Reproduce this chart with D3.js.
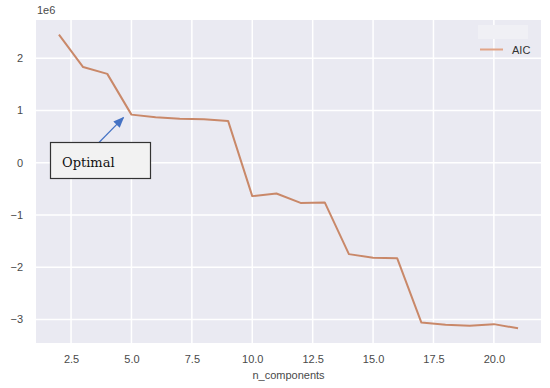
<!DOCTYPE html>
<html>
<head>
<meta charset="utf-8">
<script src="https://cdn.jsdelivr.net/npm/d3@7"></script>
<style>
  html, body { margin: 0; padding: 0; background: #ffffff; }
  svg { display: block; }
</style>
</head>
<body>
<script>
// ---- data ----
const nComponents = [2, 3, 4, 5, 6, 7, 8, 9, 10, 11, 12, 13, 14, 15, 16, 17, 18, 19, 20, 21];
const aicValues = [2.45e6, 1.83e6, 1.70e6, 0.92e6, 0.87e6, 0.84e6, 0.83e6, 0.80e6, -0.64e6, -0.59e6,
                   -0.77e6, -0.76e6, -1.75e6, -1.82e6, -1.83e6, -3.06e6, -3.10e6, -3.12e6, -3.09e6, -3.17e6];
const xTicks = [2.5, 5.0, 7.5, 10.0, 12.5, 15.0, 17.5, 20.0];
const yTicks = [-3, -2, -1, 0, 1, 2];
const seriesName = "AIC";
const xLabel = "n_components";
const annotationText = "Optimal";
const optimalX = 5;

const W = 550, H = 388;
const margin = { left: 36, right: 9, top: 20, bottom: 45 };
const pw = W - margin.left - margin.right;
const ph = H - margin.top - margin.bottom;

const svg = d3.select("body").append("svg").attr("width", W).attr("height", H);

const xExt = d3.extent(nComponents);
const xPad = (xExt[1] - xExt[0]) * 0.05;
const x = d3.scaleLinear().domain([xExt[0] - xPad, xExt[1] + xPad]).range([margin.left, margin.left + pw]);
const yExt = d3.extent(aicValues);
const yPad = (yExt[1] - yExt[0]) * 0.05;
const y = d3.scaleLinear().domain([(yExt[0] - yPad) / 1e6, (yExt[1] + yPad) / 1e6]).range([margin.top + ph, margin.top]);

// background
svg.append("rect").attr("x", margin.left).attr("y", margin.top).attr("width", pw).attr("height", ph).attr("fill", "#eaeaf2");

// grid
const g = svg.append("g");
g.selectAll(".gx").data(xTicks).enter().append("line")
  .attr("x1", d => x(d)).attr("x2", d => x(d))
  .attr("y1", margin.top).attr("y2", margin.top + ph)
  .attr("stroke", "#ffffff").attr("stroke-width", 1.5);
g.selectAll(".gy").data(yTicks).enter().append("line")
  .attr("x1", margin.left).attr("x2", margin.left + pw)
  .attr("y1", d => y(d)).attr("y2", d => y(d))
  .attr("stroke", "#ffffff").attr("stroke-width", 1.5);

// axes (labels only, seaborn darkgrid style)
const xAxis = d3.axisBottom(x).tickValues(xTicks).tickFormat(d3.format(".1f")).tickSize(0).tickPadding(12);
const gxA = svg.append("g").attr("transform", `translate(0,${margin.top + ph})`).call(xAxis);
const yAxis = d3.axisLeft(y).tickValues(yTicks).tickFormat(d => d < 0 ? "\u2212" + Math.abs(d) : d).tickSize(0).tickPadding(13);
const gyA = svg.append("g").attr("transform", `translate(${margin.left},0)`).call(yAxis);
[gxA, gyA].forEach(a => {
  a.select(".domain").remove();
  a.selectAll("text").attr("fill", "#4a4a4a").style("font-family", "'Liberation Sans', Arial, sans-serif").style("font-size", "11px");
});

// offset label
svg.append("text").attr("x", margin.left + 1).attr("y", 14)
  .attr("fill", "#4a4a4a").style("font-family", "'Liberation Sans', Arial, sans-serif").style("font-size", "11px")
  .text("1e6");

// x label
svg.append("text").attr("x", margin.left + pw / 2).attr("y", 379).attr("text-anchor", "middle")
  .attr("fill", "#4a4a4a").style("font-family", "'Liberation Sans', Arial, sans-serif").style("font-size", "11px")
  .text(xLabel);

// line
const line = d3.line().x((d, i) => x(nComponents[i])).y(d => y(d / 1e6));
svg.append("path").datum(aicValues).attr("d", line)
  .attr("fill", "none").attr("stroke", "#c98869").attr("stroke-width", 2).attr("stroke-linejoin", "round");

// legend
svg.append("rect").attr("x", 478).attr("y", 25).attr("width", 50).attr("height", 14).attr("fill", "#f0f0f5");
svg.append("line").attr("x1", 480).attr("x2", 503).attr("y1", 49.5).attr("y2", 49.5)
  .attr("stroke", "#e2a486").attr("stroke-width", 2);
svg.append("text").attr("x", 512).attr("y", 53.5)
  .attr("fill", "#333").style("font-family", "'Liberation Sans', Arial, sans-serif").style("font-size", "11px")
  .text(seriesName);

// annotation arrow
const optIdx = nComponents.indexOf(optimalX);
const tipX = x(optimalX) - 8, tipY = y(aicValues[optIdx] / 1e6) + 3;
const startX = 98.5, startY = 143;
svg.append("defs").append("marker").attr("id", "ah").attr("viewBox", "0 0 10 10")
  .attr("refX", 9).attr("refY", 5).attr("markerWidth", 11).attr("markerHeight", 9).attr("orient", "auto")
  .attr("markerUnits", "userSpaceOnUse").attr("preserveAspectRatio", "none")
  .append("path").attr("d", "M0,0 L10,5 L0,10 z").attr("fill", "#4472c4");
svg.append("line").attr("x1", startX).attr("y1", startY).attr("x2", tipX).attr("y2", tipY)
  .attr("stroke", "#4472c4").attr("stroke-width", 1.2).attr("marker-end", "url(#ah)");

// annotation box
svg.append("rect").attr("x", 50.5).attr("y", 142.5).attr("width", 100).attr("height", 36)
  .attr("fill", "#f2f2f2").attr("stroke", "#333").attr("stroke-width", 1.2);
svg.append("text").attr("x", 62).attr("y", 166.5)
  .attr("fill", "#111").style("font-family", "'DejaVu Serif', serif").style("font-size", "13px")
  .text(annotationText);
</script>
</body>
</html>
